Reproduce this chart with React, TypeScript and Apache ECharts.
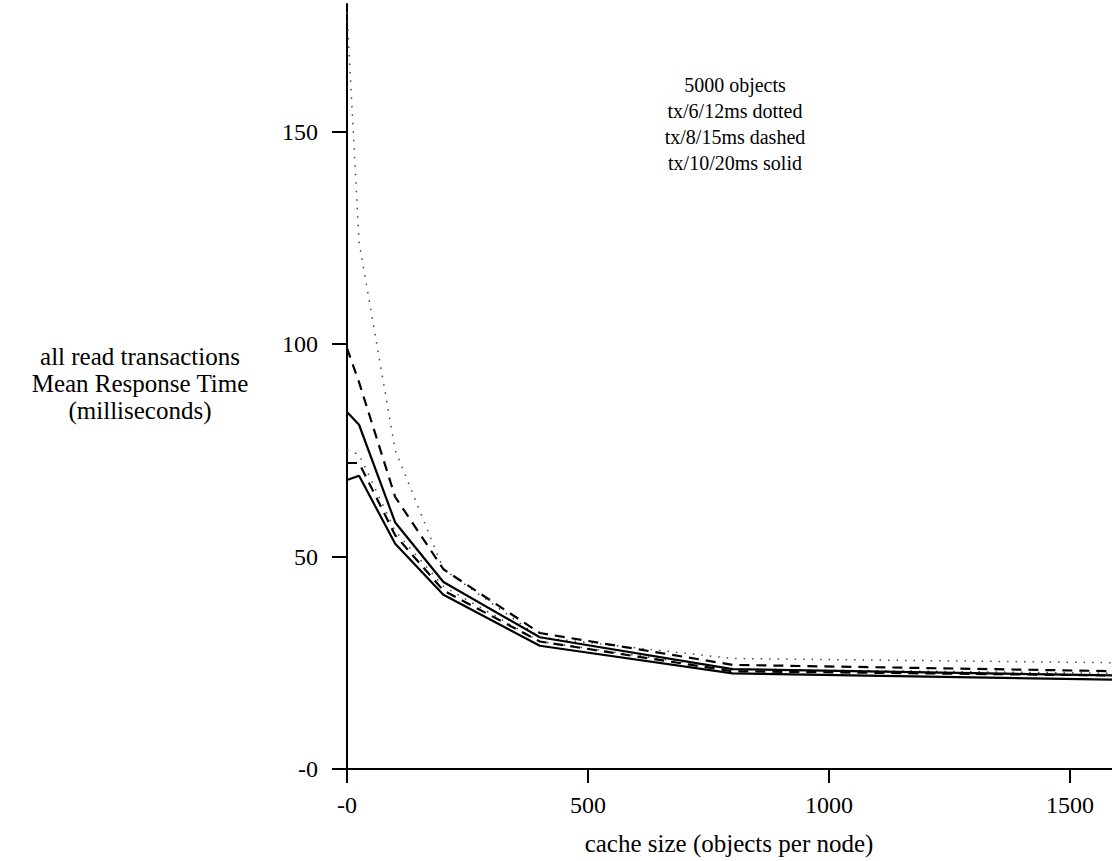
import React, { useEffect, useRef } from "react";
import * as echarts from "echarts";

const cacheSizes = [0, 25, 100, 200, 400, 800, 1600];
const dottedHigh = [178, 124, 75, 47, 31, 26, 25];
const dottedLow = [75, 74, 56, 43, 30, 23.5, 22.5];
const dashedHigh = [99, 91, 64, 47, 32, 24.5, 23];
const dashedLow = [72, 72, 55, 42, 30, 23, 22];
const solidHigh = [84, 81, 58, 44, 31, 23.5, 22];
const solidLow = [68, 69, 53, 41, 29, 22.5, 21];

const xTicks = [0, 500, 1000, 1500];
const yTicks = [0, 50, 100, 150];

const yNameLines = ["all read transactions", "Mean Response Time", "(milliseconds)"];
const noteLines = ["5000 objects", "tx/6/12ms dotted", "tx/8/15ms dashed", "tx/10/20ms solid"];
const xName = "cache size (objects per node)";

const FONT = "'Liberation Serif', 'DejaVu Serif', serif";

function pairs(vals: number[]) {
  return cacheSizes.map((x, i) => [x, vals[i]]);
}

export default function App() {
  const ref = useRef<HTMLDivElement>(null);
  useEffect(() => {
    document.body.style.margin = "0";
    const chart = echarts.init(ref.current!, null, { renderer: "svg" });
    const mk = (name: string, vals: number[], type: any, width: number, color: string) => ({
      name,
      type: "line",
      data: pairs(vals),
      showSymbol: false,
      symbol: "none",
      clip: true,
      lineStyle: { color, width, type },
      z: 3,
    });
    const fmt = (v: number) => (v === 0 ? "-0" : String(v));
    chart.setOption({
      animation: false,
      backgroundColor: "#ffffff",
      textStyle: { fontFamily: FONT },
      grid: {
        left: 347,
        top: 4,
        right: 0,
        bottom: 92,
        containLabel: false,
        outerBoundsMode: "none",
      },
      xAxis: {
        type: "value",
        min: 0,
        max: 1587,
        interval: 500,
        splitLine: { show: false },
        axisLine: { show: true, lineStyle: { color: "#000", width: 2 } },
        axisTick: {
          show: true,
          length: 14,
          customValues: xTicks,
          lineStyle: { color: "#000", width: 2 },
        },
        axisLabel: {
          color: "#000",
          fontSize: 24,
          fontFamily: FONT,
          margin: 24,
          customValues: xTicks,
          formatter: fmt,
        },
      },
      yAxis: {
        type: "value",
        min: 0,
        max: 180,
        interval: 50,
        splitLine: { show: false },
        axisLine: { show: true, lineStyle: { color: "#000", width: 2 } },
        axisTick: {
          show: true,
          length: 15,
          customValues: yTicks,
          lineStyle: { color: "#000", width: 2 },
        },
        axisLabel: {
          color: "#000",
          fontSize: 24,
          fontFamily: FONT,
          margin: 29,
          customValues: yTicks,
          formatter: fmt,
        },
      },
      series: [
        mk("tx/6/12ms dotted A", dottedHigh, [1.5, 7], 1.5, "#444"),
        mk("tx/6/12ms dotted B", dottedLow, [1.5, 7], 1.5, "#444"),
        mk("tx/8/15ms dashed A", dashedHigh, [10, 7], 2.2, "#000"),
        mk("tx/8/15ms dashed B", dashedLow, [10, 7], 2.2, "#000"),
        mk("tx/10/20ms solid A", solidHigh, "solid", 2.2, "#000"),
        mk("tx/10/20ms solid B", solidLow, "solid", 2.2, "#000"),
      ],
      graphic: [
        ...yNameLines.map((t, i) => ({
          type: "text",
          x: 140,
          y: 356 + i * 27,
          style: {
            text: t,
            fill: "#000",
            font: `25px ${FONT}`,
            textAlign: "center",
            textVerticalAlign: "middle",
          },
        })),
        ...noteLines.map((t, i) => ({
          type: "text",
          x: 735,
          y: 85 + i * 26,
          style: {
            text: t,
            fill: "#000",
            font: `20px ${FONT}`,
            textAlign: "center",
            textVerticalAlign: "middle",
          },
        })),
        {
          type: "text",
          x: 729,
          y: 843,
          style: {
            text: xName,
            fill: "#000",
            font: `25px ${FONT}`,
            textAlign: "center",
            textVerticalAlign: "middle",
          },
        },
      ],
    });
    return () => chart.dispose();
  }, []);
  return <div ref={ref} style={{ width: 1112, height: 861 }} />;
}
